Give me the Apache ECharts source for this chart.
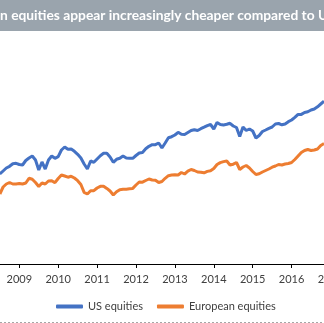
<!DOCTYPE html>
<html>
<head>
<meta charset="utf-8">
<script src="https://cdn.jsdelivr.net/npm/echarts@6/dist/echarts.min.js"></script>
<style>
html,body{margin:0;padding:0;background:#fff;}
#c{width:324px;height:323px;}
</style>
</head>
<body>
<div id="c"></div>
<script>
// Monthly observations starting July 2008
const startYear = 2008;
const startMonth = 7;
const seriesNames = ['US equities', 'European equities'];
const titleText = 'n equities appear increasingly cheaper compared to U';
const yearTicks = [2008, 2009, 2010, 2011, 2012, 2013, 2014, 2015, 2016, 2017];

const usEquities = [
  9.00, 9.30, 9.60, 9.77, 10.02, 10.07, 9.95, 9.90, 10.35, 10.60,
  10.80, 10.40, 9.40, 10.20, 9.50, 10.40, 10.80, 10.57, 10.73, 11.40,
  11.70, 11.47, 11.50, 11.27, 10.97, 10.60, 10.00, 9.50, 10.30, 10.17,
  10.50, 10.83, 11.07, 11.07, 10.70, 10.17, 10.47, 10.57, 10.80, 10.60,
  10.58, 10.57, 10.85, 11.10, 11.15, 11.52, 11.77, 11.93, 11.93, 12.10,
  11.60, 12.10, 12.63, 12.73, 12.90, 13.17, 12.97, 12.95, 13.15, 13.35,
  13.43, 13.35, 13.53, 13.68, 13.84, 13.95, 13.50, 14.15, 13.95, 13.90,
  13.97, 14.07, 13.80, 13.65, 12.75, 13.70, 13.35, 13.50, 13.30, 12.60,
  12.85, 13.25, 13.40, 13.57, 13.70, 14.00, 14.05, 13.92, 14.00, 14.23,
  14.40, 14.66, 14.96, 14.96, 15.15, 15.22, 15.40, 15.50, 15.72, 16.00,
  16.28
];

const europeanEquities = [
  7.00, 7.70, 8.00, 8.15, 8.00, 8.00, 8.05, 8.00, 8.10, 8.57,
  8.47, 8.15, 7.75, 8.10, 8.00, 8.30, 8.33, 8.13, 8.55, 8.90,
  8.80, 8.68, 8.77, 8.60, 8.33, 7.95, 7.17, 7.00, 7.33, 7.33,
  7.60, 7.77, 7.78, 7.56, 7.30, 6.90, 7.22, 7.43, 7.47, 7.48,
  7.52, 7.56, 7.90, 8.20, 8.18, 8.35, 8.50, 8.40, 8.38, 8.15,
  8.25, 8.57, 8.83, 8.90, 8.92, 8.90, 9.15, 9.00, 9.28, 9.45,
  9.35, 9.20, 9.18, 9.12, 9.26, 9.33, 9.55, 9.95, 10.14, 10.24,
  10.30, 9.90, 9.98, 10.15, 9.45, 9.70, 9.85, 9.60, 9.25, 8.95,
  9.02, 9.20, 9.35, 9.50, 9.68, 9.80, 9.95, 9.90, 10.00, 10.05,
  10.15, 10.45, 10.80, 11.15, 11.35, 11.45, 11.35, 11.40, 11.50, 11.85,
  12.05
];

function toPairs(values) {
  return values.map((v, k) => [startYear + (startMonth - 1 + k) / 12, v]);
}

const chart = echarts.init(document.getElementById('c'), null, {renderer: 'canvas'});
const font = 'Lato, "Open Sans", sans-serif';
chart.setOption({
  animation: false,
  backgroundColor: '#ffffff',
  grid: {left: -19.6, right: -6.5, top: 30, bottom: 59, containLabel: false, outerBoundsMode: 'none'},
  xAxis: {
    type: 'value',
    min: yearTicks[0],
    max: yearTicks[yearTicks.length - 1],
    interval: 1,
    axisLine: {show: true, lineStyle: {color: '#000000', width: 1}},
    axisTick: {show: true, length: 4, lineStyle: {color: '#000000'}},
    axisLabel: {
      show: true, margin: 10, color: '#404040', fontSize: 11, fontFamily: font,
      showMinLabel: true, showMaxLabel: true,
      formatter: v => String(Math.round(v))
    },
    splitLine: {show: false}
  },
  yAxis: {
    type: 'value', min: 0, max: 23.4, show: false,
    splitLine: {show: false}
  },
  legend: {
    data: seriesNames,
    left: 51, top: 296,
    itemWidth: 27, itemHeight: 4, itemGap: 14,
    icon: 'roundRect',
    textStyle: {color: '#404040', fontSize: 11, fontFamily: font}
  },
  series: [
    {
      name: seriesNames[0], type: 'line', data: toPairs(usEquities),
      showSymbol: false, symbol: 'none',
      lineStyle: {color: '#4472C4', width: 3},
      itemStyle: {color: '#4472C4'}
    },
    {
      name: seriesNames[1], type: 'line', data: toPairs(europeanEquities),
      showSymbol: false, symbol: 'none',
      lineStyle: {color: '#ED7D31', width: 3},
      itemStyle: {color: '#ED7D31'}
    }
  ],
  graphic: [
    {type: 'rect', silent: true, z: 100, shape: {x: 0, y: 0, width: 324, height: 31}, style: {fill: '#9AA4AD'}},
    {type: 'text', silent: true, z: 101, x: 0, y: 16,
     style: {text: titleText, fill: '#ffffff', font: 'bold 13.8px ' + font, verticalAlign: 'middle', align: 'left'}},
    {type: 'line', silent: true, z: 100, shape: {x1: 0, y1: 322.5, x2: 324, y2: 322.5},
     style: {stroke: '#A6A6A6', lineWidth: 1, lineDash: [2, 2]}}
  ]
});
</script>
</body>
</html>
